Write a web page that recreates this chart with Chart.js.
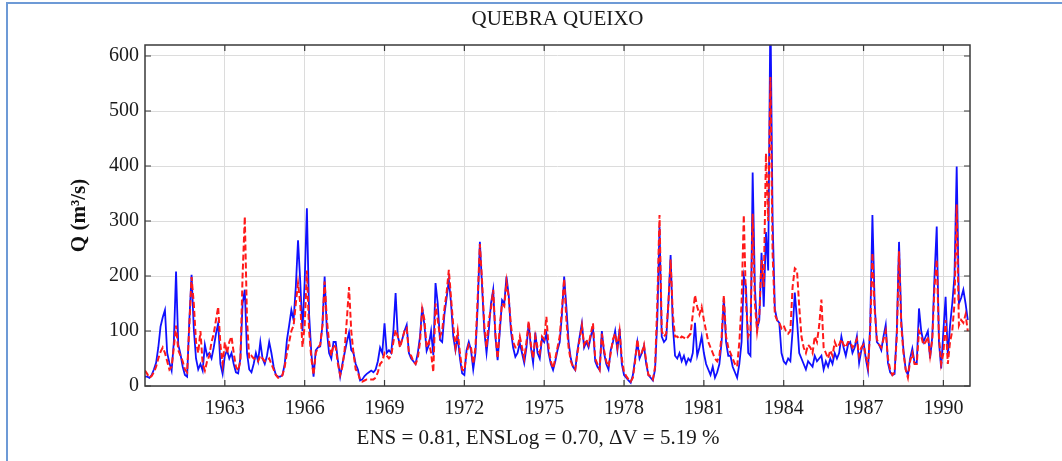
<!DOCTYPE html>
<html lang="en">
<head>
<meta charset="UTF-8">
<title>Quebra Queixo</title>
<script src="https://cdn.jsdelivr.net/npm/chart.js"></script>
<style>
    body { margin: 0; background: #fff; }
    #wrap { position: relative; width: 1062px; height: 461px; overflow: hidden; }
    #edge {
        position: absolute; left: 6px; top: 2px; right: -10px; bottom: -10px;
        border-left: 2px solid #6d9ad6; border-top: 2px solid #6d9ad6;
        pointer-events: none;
    }
</style>
</head>
<body>
<div id="wrap">
    <canvas id="flow-chart"></canvas>
    <div id="edge"></div>
</div>
<script>
    // monthly series, Jan 1960 .. Dec 1990 (one row per year)
    var startYear = 1960;
    var yearTicks = [1963, 1966, 1969, 1972, 1975, 1978, 1981, 1984, 1987, 1990];
    var flowTicks = [0, 100, 200, 300, 400, 500, 600];

    var observed = [
        17, 17, 15, 20, 30, 42, 70, 108, 125, 138, 60, 42,
        28, 80, 208, 75, 58, 35, 20, 17, 120, 202, 104, 50,
        30, 40, 28, 75, 55, 60, 50, 70, 95, 114, 40, 22,
        55, 65, 50, 60, 40, 25, 23, 50, 150, 175, 60, 30,
        25, 40, 60, 45, 80, 50, 40, 55, 80, 60, 35, 20,
        17, 17, 20, 40, 84, 110, 138, 120, 180, 265, 190, 100,
        190, 323, 130, 60, 17, 65, 70, 72, 110, 199, 100, 60,
        50, 80, 80, 45, 17, 40, 60, 80, 97, 65, 60, 40,
        30, 10, 12, 18, 22, 25, 28, 25, 30, 45, 70, 60,
        114, 60, 65, 60, 100, 169, 90, 75, 85, 100, 111, 60,
        50, 45, 40, 60, 90, 144, 110, 64, 75, 100, 56, 187,
        150, 84, 80, 130, 160, 193, 150, 90, 65, 90, 50, 23,
        20, 65, 80, 65, 30, 60, 144, 262, 180, 100, 60, 100,
        150, 175, 90, 47, 100, 156, 150, 199, 165, 100, 70, 53,
        60, 78, 60, 42, 70, 114, 70, 42, 97, 60, 50, 86,
        80, 95, 60, 40, 29, 45, 65, 80, 130, 199, 144, 80,
        50, 35, 29, 65, 90, 114, 70, 80, 70, 90, 105, 45,
        35, 29, 100, 60, 40, 30, 65, 80, 100, 65, 104, 40,
        20, 15, 10, 6, 20, 50, 80, 50, 60, 73, 40, 20,
        15, 10, 30, 120, 290, 90, 80, 85, 150, 238, 110, 55,
        50, 60, 45, 55, 40, 50, 45, 60, 115, 55, 70, 90,
        60, 40, 30, 20, 35, 15, 25, 40, 80, 160, 80, 55,
        55, 35, 25, 15, 40, 80, 200, 180, 60, 55, 388, 180,
        105, 120, 242, 144, 280, 210, 690, 300, 140, 120, 115, 60,
        45, 40, 50, 45, 100, 170, 120, 60, 50, 40, 30, 45,
        40, 35, 55, 45, 50, 55, 30, 45, 35, 50, 40, 60,
        50, 60, 90, 70, 55, 75, 80, 60, 70, 90, 42, 65,
        80, 50, 28, 110, 311, 150, 80, 75, 65, 90, 111, 42,
        25, 20, 22, 100, 262, 120, 65, 30, 20, 50, 68, 42,
        42, 141, 100, 80, 90, 100, 50, 90, 200, 290, 80, 32,
        100, 162, 55, 110, 150, 200, 399, 150, 160, 175, 150, 120
    ];

    var simulated = [
        28, 22, 15, 18, 25, 35, 50, 62, 70, 60, 45, 30,
        35, 70, 110, 65, 55, 45, 30, 25, 110, 198, 150, 80,
        60, 100, 40, 28, 45, 55, 80, 95, 120, 144, 75, 40,
        80, 60, 80, 90, 60, 35, 28, 45, 200, 308, 120, 50,
        55, 50, 50, 45, 55, 50, 45, 45, 50, 40, 30, 20,
        15, 15, 20, 35, 60, 80, 100, 110, 150, 187, 150, 71,
        110, 210, 100, 50, 20, 60, 70, 75, 110, 190, 120, 80,
        55, 75, 70, 40, 20, 35, 65, 120, 180, 100, 60, 30,
        25, 10, 8, 10, 12, 12, 12, 12, 15, 25, 40, 45,
        60, 55, 50, 55, 80, 102, 90, 70, 85, 100, 105, 60,
        55, 45, 40, 50, 80, 140, 120, 70, 80, 60, 25, 150,
        120, 90, 100, 140, 170, 211, 160, 110, 70, 100, 60, 30,
        28, 60, 75, 70, 40, 70, 160, 258, 190, 110, 70, 120,
        140, 175, 95, 50, 110, 150, 145, 190, 160, 110, 80, 70,
        70, 90, 70, 50, 80, 118, 75, 50, 90, 70, 60, 90,
        85, 126, 70, 45, 32, 50, 70, 90, 140, 195, 120, 70,
        45, 35, 30, 60, 85, 110, 75, 85, 75, 95, 114, 50,
        40, 30, 95, 65, 45, 35, 60, 85, 95, 70, 100, 50,
        25, 18, 12, 8, 15, 45, 85, 55, 60, 75, 45, 20,
        18, 12, 35, 150, 311, 100, 90, 95, 150, 230, 130, 90,
        90, 85, 90, 88, 85, 90, 95, 130, 165, 144, 130, 144,
        120, 100, 80, 70, 60, 50, 45, 55, 90, 165, 90, 70,
        60, 50, 40, 35, 80, 150, 311, 150, 90, 100, 313, 150,
        99, 130, 229, 180, 423, 300, 562, 240, 130, 120, 115, 105,
        110, 100, 95, 100, 180, 214, 210, 144, 90, 70, 60, 75,
        70, 60, 90, 80, 110, 157, 70, 60, 50, 65, 55, 80,
        70, 75, 85, 75, 70, 80, 80, 70, 75, 85, 55, 70,
        75, 55, 35, 100, 242, 140, 85, 75, 70, 85, 100, 50,
        30, 20, 25, 90, 245, 110, 60, 30, 15, 45, 60, 40,
        40, 100, 90, 75, 80, 90, 55, 85, 180, 230, 90, 40,
        60, 120, 40, 80, 100, 150, 330, 110, 120, 115, 130, 100
    ];

    var serif = '"Liberation Serif", "Times New Roman", serif';

    function toPoints(values) {
        return values.map(function(v, i) {
            return { x: startYear + i / 12, y: v };
        });
    }

    // box round the axes with inward ticks, plus title and fit caption
    var framePlugin = {
        id: 'frame',
        afterDatasetsDraw: function(chart) {
            var ctx = chart.ctx;
            var area = chart.chartArea;
            var xs = chart.scales.x;
            var ys = chart.scales.y;
            ctx.save();
            ctx.strokeStyle = '#3a3a3a';
            ctx.lineWidth = 1.5;
            ctx.strokeRect(area.left, area.top, area.right - area.left, area.bottom - area.top);
            ctx.lineWidth = 1.2;
            ctx.beginPath();
            yearTicks.forEach(function(t) {
                var px = xs.getPixelForValue(t);
                ctx.moveTo(px, area.bottom); ctx.lineTo(px, area.bottom - 6);
                ctx.moveTo(px, area.top); ctx.lineTo(px, area.top + 6);
            });
            flowTicks.forEach(function(t) {
                var py = ys.getPixelForValue(t);
                ctx.moveTo(area.left, py); ctx.lineTo(area.left + 6, py);
                ctx.moveTo(area.right, py); ctx.lineTo(area.right - 6, py);
            });
            ctx.stroke();

            ctx.fillStyle = '#1a1a1a';
            ctx.textAlign = 'center';
            ctx.textBaseline = 'middle';
            ctx.font = '21px ' + serif;
            ctx.fillText('QUEBRA QUEIXO', (area.left + area.right) / 2, 19);
            ctx.fillText('ENS = 0.81, ENSLog = 0.70, \u0394V = 5.19 %', 538, 438);
            ctx.restore();
        }
    };

    var ctx = document.getElementById('flow-chart').getContext('2d');
    var flowChart = new Chart(ctx, {
        type: 'line',
        data: {
            datasets: [{
                label: 'Observed',
                data: toPoints(observed),
                borderColor: '#1010ff',
                borderWidth: 1.8,
                pointRadius: 0,
                tension: 0,
                order: 1
            }, {
                label: 'Simulated',
                data: toPoints(simulated),
                borderColor: '#ff1a1a',
                borderWidth: 2,
                borderDash: [6, 3],
                pointRadius: 0,
                tension: 0,
                order: 0
            }]
        },
        options: {
            responsive: true,
            maintainAspectRatio: false,
            animation: false,
            layout: { padding: { top: 45, right: 92, left: 0, bottom: 0 } },
            plugins: {
                legend: { display: false },
                tooltip: { enabled: false }
            },
            scales: {
                x: {
                    type: 'linear',
                    min: 1960,
                    max: 1991,
                    afterBuildTicks: function(scale) {
                        scale.ticks = yearTicks.map(function(v) { return { value: v }; });
                    },
                    afterFit: function(scale) { scale.height = 75; },
                    ticks: {
                        autoSkip: false,
                        maxRotation: 0,
                        padding: 11,
                        color: '#1a1a1a',
                        font: { family: serif, size: 20 },
                        callback: function(v) { return String(v); }
                    },
                    grid: { color: '#dcdcdc', drawTicks: false },
                    border: { display: false }
                },
                y: {
                    min: 0,
                    max: 620,
                    afterBuildTicks: function(scale) {
                        scale.ticks = flowTicks.map(function(v) { return { value: v }; });
                    },
                    afterFit: function(scale) { scale.width = 145; },
                    ticks: {
                        padding: 6,
                        color: '#1a1a1a',
                        font: { family: serif, size: 20 }
                    },
                    grid: { color: '#dcdcdc', drawTicks: false },
                    border: { display: false },
                    title: {
                        display: true,
                        text: 'Q (m\u00b3/s)',
                        color: '#111',
                        font: { family: serif, size: 21, weight: 'bold' },
                        padding: { top: 67, bottom: 0 }
                    }
                }
            }
        },
        plugins: [framePlugin]
    });
</script>
</body>
</html>
